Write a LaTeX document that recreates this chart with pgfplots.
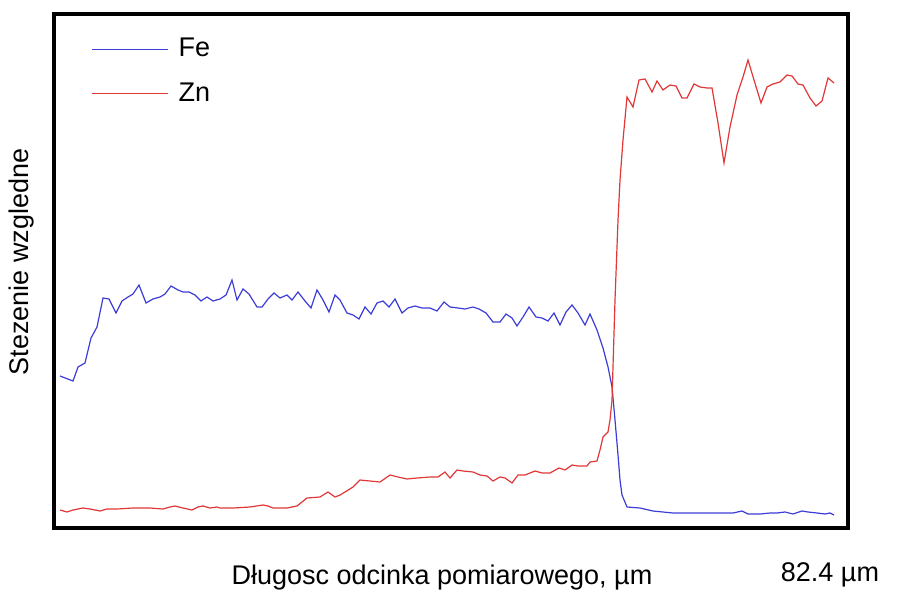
\documentclass[border=0pt]{standalone}
\usepackage{fontspec}
\setmainfont{Liberation Sans}
\usepackage{pgfplots}
\pgfplotsset{compat=1.18}

\definecolor{feblue}{RGB}{60,60,215}
\definecolor{znred}{RGB}{225,55,55}
\newcommand{\lblfont}{\fontsize{13.5}{16}\selectfont}

\begin{document}
\begin{tikzpicture}
\begin{axis}[
    scale only axis,
    width=397pt, height=257pt,
    xmin=54, xmax=848, ymin=0, ymax=514,
    xtick=\empty, ytick=\empty,
    axis line style={line width=2.2pt},
    clip=false,
    legend style={at={(axis cs:91,490)}, anchor=north west, draw=none, fill=none,
        font=\lblfont, row sep=11.5pt, inner sep=0pt,
        nodes={inner xsep=5pt, inner ysep=0pt}},
    legend cell align=left,
    legend image code/.code={\draw[#1] (0pt,0pt) -- (38pt,0pt);},
]
% Fe
\addplot[feblue, line width=0.6pt] coordinates {
(60,152) (73,147) (78,161) (85,165) (91,190) (97,201) (103,230) (109,229)
(116,215) (122,227) (128,231) (133,234) (139,243) (146,225) (153,229) (160,231)
(165,234) (171,242) (178,238) (183,236) (189,236) (195,233) (201,227) (207,231)
(213,227) (220,229) (226,233) (232,248) (237,228) (243,239) (249,234) (257,221)
(262,221) (268,229) (274,235) (280,230) (287,233) (292,228) (298,236) (305,227)
(311,220) (317,238) (323,228) (329,216) (335,233) (340,228) (347,215) (353,213)
(359,209) (365,221) (371,214) (377,225) (383,227) (389,221) (395,229) (402,215)
(408,220) (415,222) (422,220) (430,220) (437,217) (444,226) (450,221) (458,220)
(465,219) (473,221) (479,219) (486,215) (493,206) (500,206) (506,214) (512,210)
(517,202) (523,211) (529,221) (536,211) (542,210) (548,207) (554,215) (560,203)
(566,216) (572,223) (578,215) (585,203) (590,214) (597,198) (603,180) (608,161)
(612,141) (615,108) (618,73) (620,48) (622,33) (627,21) (640,20) (653,17)
(663,16) (673,15) (687,15) (700,15) (713,15) (727,15) (733,15) (742,17)
(748,14) (760,14) (770,15) (777,15) (785,16) (793,14) (802,17) (808,16)
(817,15) (825,14) (830,15) (834,13)
};
\addlegendentry{Fe}
% Zn
\addplot[znred, line width=0.6pt] coordinates {
(60,18) (67,16) (73,18) (83,20) (90,19) (100,17) (107,19) (117,19)
(133,20) (150,20) (163,19) (170,21) (175,22) (183,20) (192,18) (198,21)
(203,22) (210,20) (217,21) (220,20) (233,20) (250,21) (263,23) (268,22)
(273,20) (287,20) (297,22) (302,26) (307,30) (320,31) (328,36) (335,31)
(340,33) (345,36) (353,41) (360,48) (370,47) (380,46) (390,53) (398,51)
(407,49) (417,50) (430,51) (438,51) (445,56) (450,50) (457,58) (463,57)
(473,56) (480,53) (487,52) (493,47) (500,51) (505,50) (512,45) (518,53)
(525,53) (535,57) (542,55) (550,55) (559,60) (565,58) (572,63) (578,62)
(587,62) (590,66) (597,67) (600,78) (603,91) (608,96) (610,108) (612,128)
(615,228) (618,308) (620,348) (623,388) (627,431) (633,421) (639,448) (645,449)
(652,436) (657,447) (663,438) (670,443) (676,442) (682,430) (687,430) (694,444)
(700,441) (707,440) (712,440) (718,405) (724,365) (730,401) (737,433) (743,451)
(748,468) (754,448) (761,425) (767,441) (773,444) (780,446) (787,453) (792,452)
(798,444) (803,443) (810,430) (816,422) (822,427) (828,450) (834,445)
};
\addlegendentry{Zn}
% labels
\node[rotate=90, font=\lblfont] at (axis cs:22,266) {Stezenie wzgledne};
\node[font=\lblfont] at (axis cs:442,-50) {Długosc odcinka pomiarowego, µm};
\node[font=\lblfont] at (axis cs:830,-47) {82.4 µm};
% page frame
\path (axis cs:0,-69) rectangle (axis cs:897,528);
\end{axis}
\end{tikzpicture}
\end{document}
